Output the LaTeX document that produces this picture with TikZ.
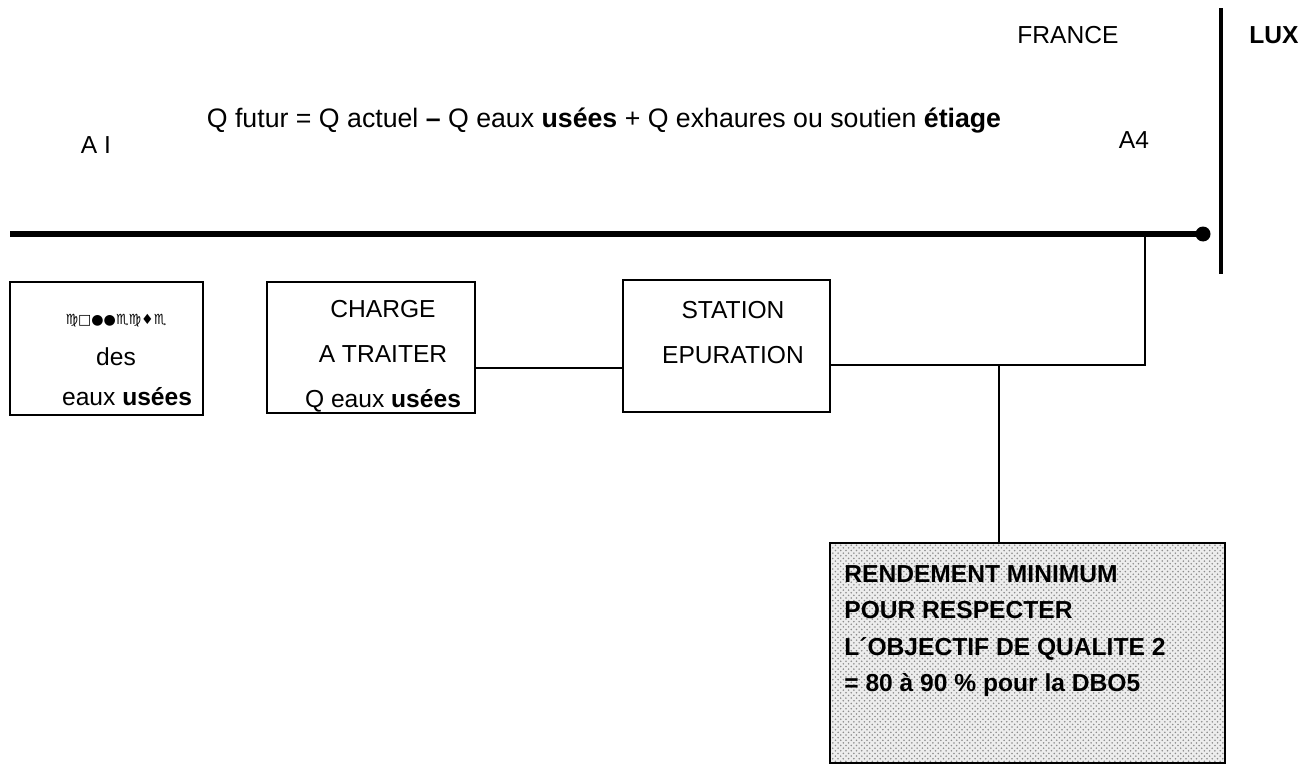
\documentclass[tikz,border=0pt]{standalone}
\usepackage{fontspec}
\setmainfont{Liberation Sans}
\newfontfamily\wingfont{DejaVu Sans}
\usetikzlibrary{patterns}

\begin{document}
\begin{tikzpicture}[x=0.02cm,y=-0.02cm,
  every node/.style={font=\fontsize{14pt}{17pt}\selectfont},
  boite/.style={draw,line width=1.5pt,inner sep=0pt},
  texte/.style={align=center,inner sep=0pt},
  resultat/.style={draw,line width=1.5pt,inner sep=0pt,preaction={fill=black!7},
    pattern=crosshatch dots,pattern color=black!45},
  point/.style={circle,fill,inner sep=0pt,minimum size=0.3cm},
  riviere/.style={line width=3.2pt},
  frontiere/.style={line width=2.4pt},
  liaison/.style={line width=1.1pt}]
  \useasboundingbox (0,0) rectangle (1313,764);

  \node (france) at (1068,35) {FRANCE};
  \node (lux) at (1274,35) {\textbf{LUX}};
  \node[font=\fontsize{15.2pt}{18pt}\selectfont] (formule) at (604,121)
    {Q futur = Q actuel \textbf{--} Q eaux \textbf{usées} + Q exhaures ou soutien \textbf{étiage}};
  \node (a1) at (96,145) {A I};
  \node (a4) at (1134,140) {A4};

  \coordinate (amont) at (10,234);
  \node[point] (aval) at (1203,234) {};
  \draw[riviere] (amont) -- (aval.center);
  \coordinate (frontN) at (1221,8);
  \coordinate (frontS) at (1221,274);
  \draw[frontiere] (frontN) -- (frontS);

  \node[boite,minimum width=3.86cm,minimum height=2.66cm] (collecte) at (106.5,348.5) {};
  \node[texte,font=\fontsize{14pt}{23.3pt}\selectfont] (collecteT) at (116,360)
    {{\wingfont\fontsize{8pt}{10pt}\selectfont ♍□●●♏♍♦♏}\\des\\\hspace*{0.9em}eaux \textbf{usées}};

  \node[boite,minimum width=4.16cm,minimum height=2.62cm] (charge) at (371,347.5) {};
  \node[texte,font=\fontsize{14pt}{25.5pt}\selectfont] (chargeT) at (383,356)
    {CHARGE\\A TRAITER\\Q eaux \textbf{usées}};

  \node[boite,minimum width=4.14cm,minimum height=2.64cm] (station) at (726.5,346) {};
  \node[texte,font=\fontsize{14pt}{25.6pt}\selectfont] (stationT) at (733,333)
    {STATION\\EPURATION};

  \node[resultat,minimum width=7.9cm,minimum height=4.4cm] (rendement) at (1027.5,653) {};
  \node[anchor=north west,inner sep=0pt,align=left,
    font=\bfseries\fontsize{14pt}{20.7pt}\selectfont] (rendementT) at (844,565)
    {RENDEMENT MINIMUM\\POUR RESPECTER\\L´OBJECTIF DE QUALITE 2\\= 80 à 90 \% pour la DBO5};

  % liaisons
  \coordinate (lien) at (0,368);
  \draw[liaison] (charge.east |- lien) -- (station.west |- lien);
  \coordinate (jonction) at (1145,365);
  \draw[liaison] (station.east |- jonction) -- (jonction) -- (jonction |- aval);
  \coordinate (rejet) at (999,365);
  \draw[liaison] (rejet) -- (rejet |- rendement.north);
\end{tikzpicture}
\end{document}
